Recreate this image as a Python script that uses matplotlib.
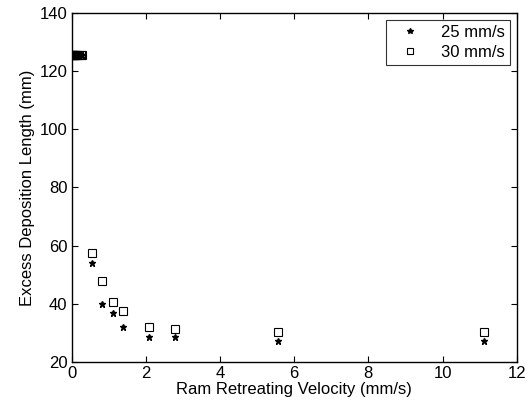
import numpy as np
import matplotlib.pyplot as plt

plt.rcParams['font.family'] = ['Liberation Sans', 'DejaVu Sans']

# velocidades de retroceso del piston (mm/s)
vel = [0.01, 0.02, 0.03, 0.04, 0.05, 0.06, 0.08, 0.1, 0.12, 0.15, 0.2, 0.25, 0.28,
       0.56, 0.83, 1.11, 1.39, 2.08, 2.78, 5.56, 11.11]
# longitud de deposicion en exceso (mm)
len_25 = [125.5, 125.5, 125.5, 125.5, 125.5, 125.5, 125.5, 125.5, 125.5, 125.5, 125.5, 125.5, 125.5,
          54.1, 39.8, 36.9, 32.0, 28.7, 28.7, 27.2, 27.2]
len_30 = [125.5, 125.5, 125.5, 125.5, 125.5, 125.5, 125.5, 125.5, 125.5, 125.5, 125.5, 125.5, 125.5,
          57.6, 47.9, 40.7, 37.5, 32.1, 31.2, 30.2, 30.2]

fig = plt.figure(figsize=(5.3, 4.08), dpi=100)
ax = fig.add_axes([0.135, 0.113, 0.840, 0.855])

ax.plot(vel, len_25, '*', color='black', markersize=5, linestyle='none', label='25 mm/s')
ax.plot(vel, len_30, 's', markerfacecolor='none', markeredgecolor='black', markersize=5.5,
        markeredgewidth=0.8, linestyle='none', label='30 mm/s')

ax.set_xlim(0, 12)
ax.set_ylim(20, 140)
ax.set_xticks([0, 2, 4, 6, 8, 10, 12])
ax.set_yticks([20, 40, 60, 80, 100, 120, 140])
ax.tick_params(direction='in', top=True, right=True, labelsize=12, length=4, pad=3)
for s in ax.spines.values():
    s.set_linewidth(1.0)

ax.set_xlabel('Ram Retreating Velocity (mm/s)', fontsize=12, labelpad=1)
ax.set_ylabel('Excess Deposition Length (mm)', fontsize=12, labelpad=3)

leg = ax.legend(loc='upper right', fontsize=12, fancybox=False, edgecolor='black',
                handletextpad=0.8, borderaxespad=0.4, handlelength=2.2, borderpad=0.3,
                labelspacing=0.3, markerscale=0.8)
leg.get_frame().set_linewidth(0.8)

fig.savefig('out.png', dpi=100)
